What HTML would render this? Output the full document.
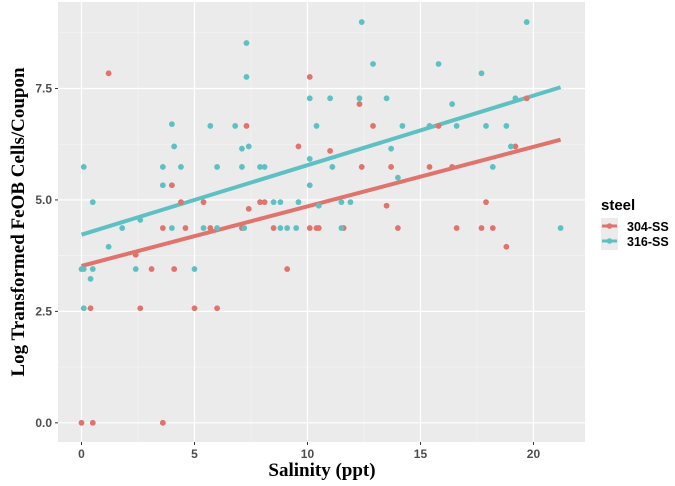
<!DOCTYPE html>
<html><head><meta charset="utf-8"><style>
body{margin:0;background:#fff;}
svg{display:block;}
</style></head><body>
<svg id="chart" width="675" height="486" xmlns="http://www.w3.org/2000/svg">
<rect x="58" y="2" width="527" height="440" fill="#ebebeb"/>
<g id="grid"></g>
<g id="lines"></g>
<g id="points"></g>
<g id="axes"></g>
<text x="322" y="476" text-anchor="middle" font-family="Liberation Serif, serif" font-weight="bold" font-size="19">Salinity (ppt)</text>
<text transform="translate(24,222) rotate(-90)" text-anchor="middle" font-family="Liberation Serif, serif" font-weight="bold" font-size="19">Log Transformed FeOB Cells/Coupon</text>
<g>
<text x="601" y="210" font-family="Liberation Sans, sans-serif" font-weight="bold" font-size="15">steel</text>
<rect x="601" y="218" width="17" height="16" fill="#ebebeb"/>
<line x1="602" y1="226" x2="617" y2="226" stroke="#E0736B" stroke-width="3"/>
<circle cx="609.5" cy="226" r="2.8" fill="#E0736B"/>
<rect x="601" y="234" width="17" height="16" fill="#ebebeb"/>
<line x1="602" y1="241" x2="617" y2="241" stroke="#5FC0C3" stroke-width="3"/>
<circle cx="609.5" cy="241" r="2.8" fill="#5FC0C3"/>
<text x="627" y="231" font-family="Liberation Sans, sans-serif" font-weight="bold" font-size="12.5">304-SS</text>
<text x="627" y="246" font-family="Liberation Sans, sans-serif" font-weight="bold" font-size="12.5">316-SS</text>
</g>
</svg>
<script>
const xTicks = [0, 5, 10, 15, 20];
const yTicks = [0, 2.5, 5, 7.5];
const yTickLabels = ["0.0", "2.5", "5.0", "7.5"];
const redX = [0,0.5,0.4,1.2,2.4,2.6,3.1,3.6,3.6,4.0,4.1,4.4,4.6,5.0,5.4,5.7,6.0,7.1,7.3,7.4,7.9,8.1,8.5,9.1,9.6,10.1,10.1,10.4,10.5,11.0,11.6,12.3,12.4,12.9,13.5,13.7,14.0,15.4,15.8,16.4,16.6,17.7,17.9,18.2,18.8,19.2,19.7];
const redY = [0,0,2.57,7.84,3.77,2.57,3.45,4.37,0,5.33,3.45,4.95,4.37,2.57,4.95,4.37,2.57,4.37,6.66,4.8,4.95,4.95,4.37,3.45,6.2,7.76,4.37,4.37,4.37,6.1,4.37,7.15,5.74,6.66,4.87,5.74,4.37,5.74,6.66,5.74,4.37,4.37,4.95,4.37,3.95,6.2,7.28];
const tealX = [0,0.1,0.1,0.1,0.4,0.5,0.5,1.2,1.8,2.4,2.6,3.6,3.6,4.0,4.0,4.1,4.4,5.0,5.4,5.7,6.0,6.0,6.8,7.1,7.1,7.2,7.3,7.3,7.4,7.9,8.1,8.5,8.8,8.8,9.1,9.5,9.6,10.1,10.1,10.1,10.4,10.5,11.0,11.1,11.5,11.5,11.9,12.3,12.4,12.9,13.5,13.7,14.0,14.2,15.4,15.8,16.4,16.6,17.7,17.9,18.2,18.8,19.0,19.2,19.7,21.2];
const tealY = [3.45,3.45,5.74,2.57,3.23,4.95,3.45,3.95,4.37,3.45,4.55,5.74,5.33,6.7,4.37,6.2,5.74,3.45,4.37,6.66,4.37,5.74,6.66,6.15,5.74,4.37,8.52,7.76,6.2,5.74,5.74,4.95,4.95,4.37,4.37,4.37,4.95,7.28,5.92,5.33,6.66,4.87,7.28,5.74,4.95,4.37,4.95,7.28,8.99,8.05,7.28,6.15,5.5,6.66,6.66,8.05,7.15,6.66,7.84,6.66,5.74,6.66,6.2,7.28,8.99,4.37];
// fitted trend lines: [304-SS, 316-SS]
const trendIntercepts = [3.52, 4.22];
const trendSlopes = [0.1335, 0.156];
const trendRange = [0, 21.2];

const NS = "http://www.w3.org/2000/svg";
const X0 = 58, X1 = 585, Y0 = 442, Y1 = 2;
const xMin = -1.04, xMax = 22.28, yMin = -0.43, yMax = 9.44;
const sx = v => X0 + (v - xMin) / (xMax - xMin) * (X1 - X0);
const sy = v => Y0 - (v - yMin) / (yMax - yMin) * (Y0 - Y1);
function mk(tag, attrs, parent) {
  const e = document.createElementNS(NS, tag);
  for (const k in attrs) e.setAttribute(k, attrs[k]);
  document.getElementById(parent).appendChild(e);
  return e;
}
for (let i = 0; i < xTicks.length - 1; i++) {
  const v = (xTicks[i] + xTicks[i + 1]) / 2;
  const g = mk("line", {x1: sx(v), x2: sx(v), y1: Y1, y2: Y0, stroke: "#f5f5f5", "stroke-width": 0.6}, "grid");
  
  
}
for (let i = 0; i < yTicks.length - 1; i++) {
  const v = (yTicks[i] + yTicks[i + 1]) / 2;
  const g = mk("line", {x1: X0, x2: X1, y1: sy(v), y2: sy(v), stroke: "#f5f5f5", "stroke-width": 0.6}, "grid");
  
  
}
const yTop = yTicks[yTicks.length - 1] + 1.25;
if (yTop < yMax) {
  const g = mk("line", {x1: X0, x2: X1, y1: sy(yTop), y2: sy(yTop), stroke: "#f5f5f5", "stroke-width": 0.6}, "grid");
  
  
}
xTicks.forEach(v => {
  const g = mk("line", {x1: sx(v), x2: sx(v), y1: Y1, y2: Y0, stroke: "#fff", "stroke-width": 1.2}, "grid");
  
  
  const t = mk("line", {x1: sx(v), x2: sx(v), y1: Y0, y2: Y0 + 3, stroke: "#333", "stroke-width": 1}, "axes");
  
  
  const l = mk("text", {x: sx(v), y: Y0 + 16, "text-anchor": "middle", "font-family": "Liberation Sans, sans-serif", "font-weight": "bold", "font-size": 12, fill: "#4d4d4d"}, "axes");
  l.textContent = String(v);
  
  
});
yTicks.forEach((v, i) => {
  const g = mk("line", {x1: X0, x2: X1, y1: sy(v), y2: sy(v), stroke: "#fff", "stroke-width": 1.2}, "grid");
  
  
  const t = mk("line", {x1: X0 - 3, x2: X0, y1: sy(v), y2: sy(v), stroke: "#333", "stroke-width": 1}, "axes");
  
  
  const l = mk("text", {x: X0 - 6, y: sy(v) + 4, "text-anchor": "end", "font-family": "Liberation Sans, sans-serif", "font-weight": "bold", "font-size": 12, fill: "#4d4d4d"}, "axes");
  l.textContent = yTickLabels[i];
  
  
});
const colors = ["#E0736B", "#5FC0C3"];
const names = ["304", "316"];
trendIntercepts.forEach((a, i) => {
  const b = trendSlopes[i];
  const x0 = trendRange[0], x1 = trendRange[1];
  const ln = mk("line", {x1: sx(x0), y1: sy(a + b * x0), x2: sx(x1), y2: sy(a + b * x1), stroke: colors[i], "stroke-width": 4}, "lines");
  
  
});
[[redX, redY, colors[0], "304"], [tealX, tealY, colors[1], "316"]].forEach(([xs, ys, c, nm]) => {
  xs.forEach((x, i) => {
    const p = mk("circle", {cx: sx(x), cy: sy(ys[i]), r: 2.9, fill: c}, "points");
    
    
  });
});
</script>
</body></html>
